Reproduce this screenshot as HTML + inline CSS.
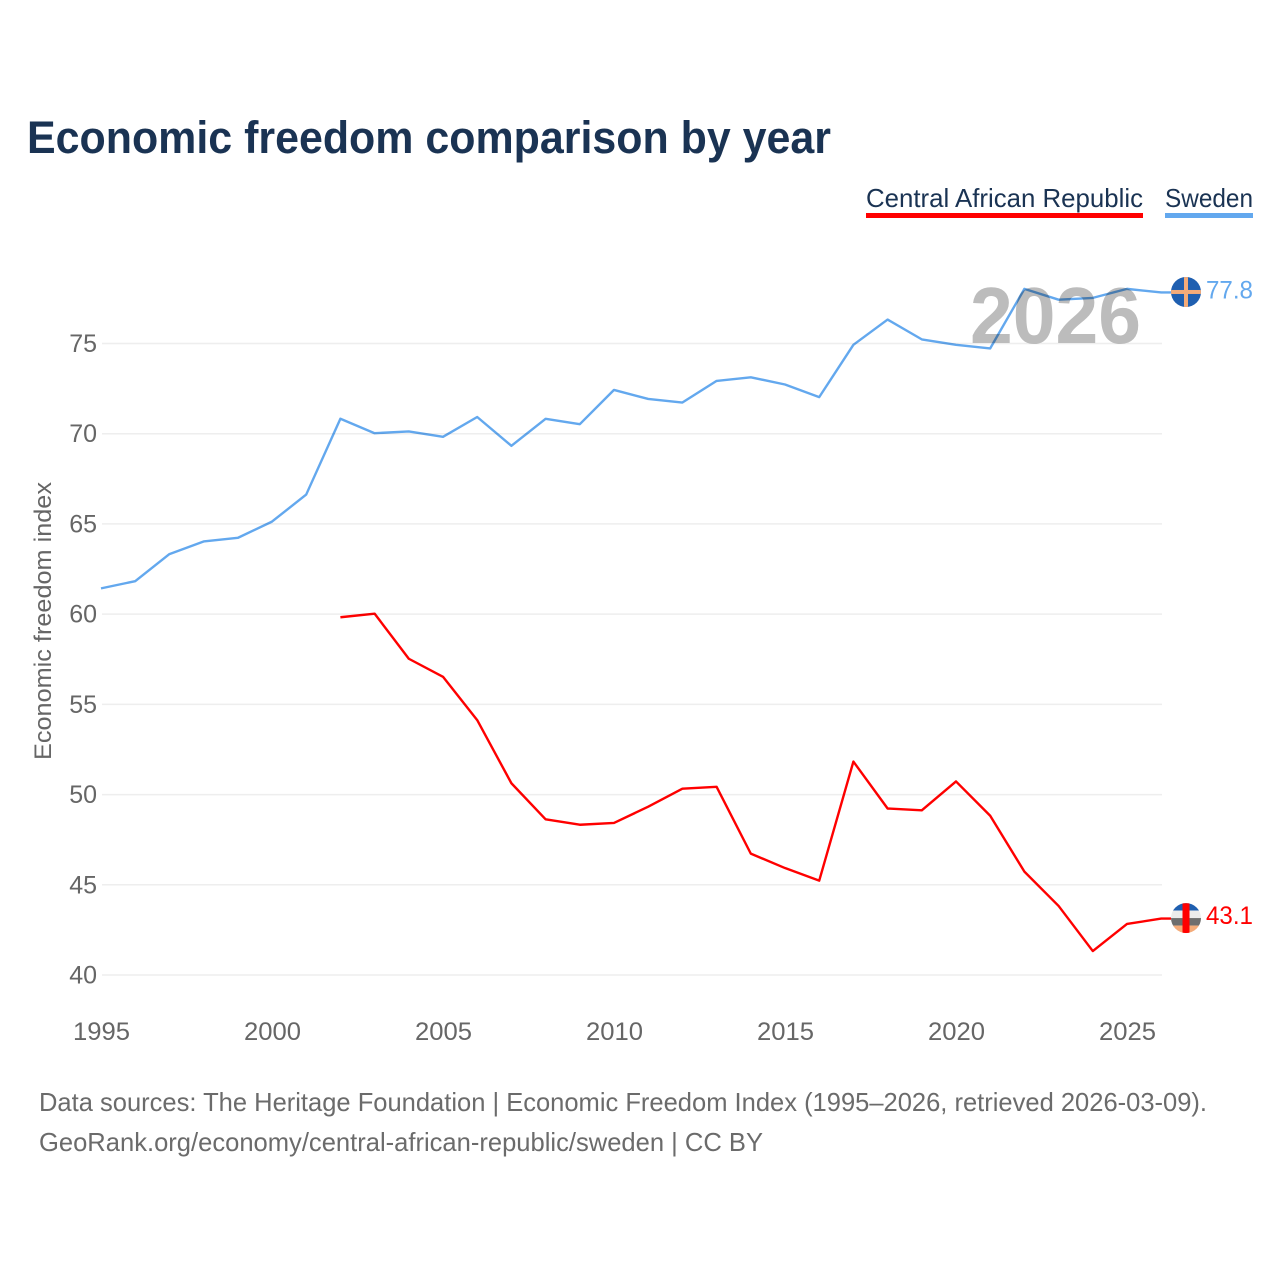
<!DOCTYPE html>
<html lang="en">
<head>
<meta charset="utf-8">
<title>Economic freedom comparison by year</title>
<style>
html,body{margin:0;padding:0;background:#fff;width:1280px;height:1280px;overflow:hidden}
svg{display:block;isolation:isolate}
text{font-family:"Liberation Sans",sans-serif}
</style>
</head>
<body>
<svg id="chart" width="1280" height="1280" viewBox="0 0 1280 1280" xmlns="http://www.w3.org/2000/svg">
  <defs>
    <clipPath id="clip-flag-se"><circle id="clip-se" r="15"></circle></clipPath>
    <clipPath id="clip-flag-cf"><circle id="clip-cf" r="15"></circle></clipPath>
  </defs>
  <text x="27" y="153" font-size="45" font-weight="700" fill="#1a3353" textLength="804" lengthAdjust="spacingAndGlyphs">Economic freedom comparison by year</text>

  <text x="866" y="207" font-size="26" fill="#1a3353" textLength="277" lengthAdjust="spacingAndGlyphs">Central African Republic</text>
  <rect x="866" y="213" width="277" height="5" fill="#ff0000"></rect>
  <text x="1165" y="207" font-size="26" fill="#1a3353" textLength="88" lengthAdjust="spacingAndGlyphs">Sweden</text>
  <rect x="1165" y="213" width="88" height="5" fill="#63a8ee"></rect>

  <g id="grid"></g>
  <g id="y-ticks"></g>
  <g id="x-ticks"></g>

  <text transform="translate(51,621) rotate(-90)" text-anchor="middle" font-size="24" fill="#666666" textLength="278" lengthAdjust="spacingAndGlyphs">Economic freedom index</text>

  <text x="970" y="343" font-size="80" font-weight="700" fill="#bcbcbc" textLength="171" lengthAdjust="spacingAndGlyphs">2026</text>

  <g id="series" transform="translate(-1,-0.5)"></g>
  <g id="flags" transform="translate(0,-1)"></g>

  <text x="39" y="1111" font-size="26" fill="#6b6b6b" textLength="1168" lengthAdjust="spacingAndGlyphs">Data sources: The Heritage Foundation | Economic Freedom Index (1995–2026, retrieved 2026-03-09).</text>
  <text x="39" y="1151" font-size="26" fill="#6b6b6b" textLength="724" lengthAdjust="spacingAndGlyphs">GeoRank.org/economy/central-african-republic/sweden | CC BY</text>
</svg>
<script>
const years = [1995,1996,1997,1998,1999,2000,2001,2002,2003,2004,2005,2006,2007,2008,2009,2010,2011,2012,2013,2014,2015,2016,2017,2018,2019,2020,2021,2022,2023,2024,2025,2026];
const swedenValues = [61.4,61.8,63.3,64.0,64.2,65.1,66.6,70.8,70.0,70.1,69.8,70.9,69.3,70.8,70.5,72.4,71.9,71.7,72.9,73.1,72.7,72.0,74.9,76.3,75.2,74.9,74.7,78.0,77.4,77.5,78.0,77.8];
const carValues = [null,null,null,null,null,null,null,59.8,60.0,57.5,56.5,54.1,50.6,48.6,48.3,48.4,49.3,50.3,50.4,46.7,45.9,45.2,51.8,49.2,49.1,50.7,48.8,45.7,43.8,41.3,42.8,43.1];
const yTickValues = [40,45,50,55,60,65,70,75];
const xTickValues = [1995,2000,2005,2010,2015,2020,2025];

const NS = 'http://www.w3.org/2000/svg';
const xScale = function (year) { return 102 + (year - 1995) * (1026 / 30); };
const yScale = function (value) { return 975 - (value - 40) * (631.5 / 35); };
const FLAG_X = 1186;

function make(tag, parent, props) {
  const el = document.createElementNS(NS, tag);
  Object.keys(props).forEach(function (k) { el.setAttribute(k, props[k]); });
  parent.appendChild(el);
  return el;
}

const gridG = document.getElementById('grid');
const yG = document.getElementById('y-ticks');
const xG = document.getElementById('x-ticks');
const seriesG = document.getElementById('series');
const flagsG = document.getElementById('flags');

yTickValues.forEach(function (v) {
  const line = make('line', gridG, {x1: 102, x2: 1162, y1: yScale(v), y2: yScale(v), stroke: '#eeeeee', 'stroke-width': 1.5});
  
  
  const label = make('text', yG, {x: 97, y: yScale(v) + 8.5, 'text-anchor': 'end', 'font-size': 25, fill: '#666666'});
  label.textContent = String(v);
  
  
});

xTickValues.forEach(function (y) {
  const label = make('text', xG, {x: xScale(y) - 0.5, y: 1040, 'text-anchor': 'middle', 'font-size': 25, fill: '#666666', textLength: 57, lengthAdjust: 'spacingAndGlyphs'});
  label.textContent = String(y);
  
  
});

function pathFor(values) {
  let d = '';
  let lastVal = null;
  values.forEach(function (v, i) {
    if (v === null) return;
    d += (d ? 'L' : 'M') + xScale(years[i]).toFixed(2) + ' ' + yScale(v).toFixed(2);
    lastVal = v;
  });
  d += 'L' + (FLAG_X - 14) + ' ' + yScale(lastVal).toFixed(2);
  return d;
}

const swedenLine = make('path', seriesG, {d: pathFor(swedenValues), fill: 'none', stroke: '#63a8ee', 'stroke-width': 2.4, 'stroke-linejoin': 'round', style: 'mix-blend-mode:multiply'});


const carLine = make('path', seriesG, {d: pathFor(carValues), fill: 'none', stroke: '#ff0000', 'stroke-width': 2.4, 'stroke-linejoin': 'round', style: 'mix-blend-mode:multiply'});



/* Sweden end marker */
const seLast = swedenValues[swedenValues.length - 1];
const seY = yScale(seLast);
const clipSe = document.getElementById('clip-se');
clipSe.setAttribute('cx', FLAG_X);
clipSe.setAttribute('cy', seY);
const seFlag = make('g', flagsG, {'clip-path': 'url(#clip-flag-se)'});


make('rect', seFlag, {x: FLAG_X - 15, y: seY - 15, width: 30, height: 30, fill: '#1f5fb0'});
make('rect', seFlag, {x: FLAG_X - 15, y: seY - 2, width: 30, height: 4, fill: '#f4ab79'});
make('rect', seFlag, {x: FLAG_X - 2, y: seY - 15, width: 4, height: 30, fill: '#f4ab79'});
const seLabel = make('text', flagsG, {x: 1206, y: seY + 6.5, 'font-size': 25, fill: '#63a8ee', textLength: 47, lengthAdjust: 'spacingAndGlyphs'});
seLabel.textContent = seLast.toFixed(1);



/* Central African Republic end marker */
const cfLast = carValues[carValues.length - 1];
const cfY = yScale(cfLast);
const clipCf = document.getElementById('clip-cf');
clipCf.setAttribute('cx', FLAG_X);
clipCf.setAttribute('cy', cfY);
const cfFlag = make('g', flagsG, {'clip-path': 'url(#clip-flag-cf)'});


make('rect', cfFlag, {x: FLAG_X - 15, y: cfY - 15, width: 30, height: 7.5, fill: '#1f5fb0'});
make('rect', cfFlag, {x: FLAG_X - 15, y: cfY - 7.5, width: 30, height: 7.5, fill: '#ececec'});
make('rect', cfFlag, {x: FLAG_X - 15, y: cfY, width: 30, height: 7.5, fill: '#6e6e6e'});
make('rect', cfFlag, {x: FLAG_X - 15, y: cfY + 7.5, width: 30, height: 7.5, fill: '#f4ab79'});
make('rect', cfFlag, {x: FLAG_X - 3.5, y: cfY - 15, width: 7, height: 30, fill: '#ff0000'});
const cfLabel = make('text', flagsG, {x: 1206, y: cfY + 6, 'font-size': 25, fill: '#ff0000', textLength: 47, lengthAdjust: 'spacingAndGlyphs'});
cfLabel.textContent = cfLast.toFixed(1);


</script>
</body>
</html>
